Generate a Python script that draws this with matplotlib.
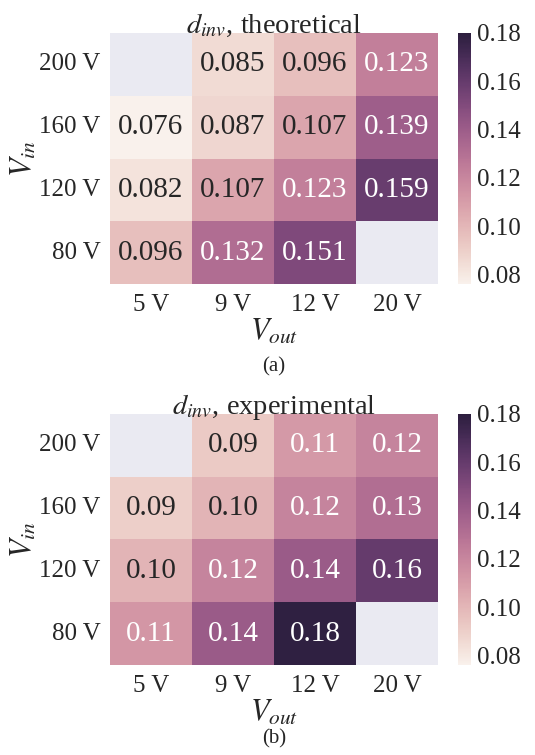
import matplotlib
matplotlib.use('Agg')
import matplotlib.pyplot as plt
import numpy as np
import pandas as pd
import seaborn as sns

# Data
vin_labels = ['200 V', '160 V', '120 V', '80 V']
vout_labels = ['5 V', '9 V', '12 V', '20 V']

theoretical = [
    [np.nan, 0.085, 0.096, 0.123],
    [0.076, 0.087, 0.107, 0.139],
    [0.082, 0.107, 0.123, 0.159],
    [0.096, 0.132, 0.151, np.nan],
]

# shown rounded to 2 decimals in the chart
experimental = [
    [np.nan, 0.092, 0.112, 0.121],
    [0.090, 0.101, 0.121, 0.131],
    [0.101, 0.121, 0.141, 0.160],
    [0.113, 0.141, 0.179, np.nan],
]

sns.set_theme(style='darkgrid')
plt.rcParams['font.family'] = ['Liberation Serif', 'DejaVu Serif']
plt.rcParams['mathtext.fontset'] = 'stix'

cmap = sns.cubehelix_palette(light=.95, as_cmap=True)
vmin, vmax = 0.076, 0.18

fig = plt.figure(figsize=(5.35, 7.55), dpi=100)

panels = [
    (theoretical, '.3f', r'$d_{inv}$, theoretical', '(a)', 0.6238, 0.502),
    (experimental, '.2f', r'$d_{inv}$, experimental', '(b)', 0.1192, 0.008),
]

for data, fmt, title, tag, bottom, tag_y in panels:
    df = pd.DataFrame(data, index=vin_labels, columns=vout_labels)
    ax = fig.add_axes([0.2056, bottom, 0.613, 0.3325])
    cax = fig.add_axes([0.856, bottom, 0.0243, 0.3325])
    sns.heatmap(df, ax=ax, cbar_ax=cax, cmap=cmap, vmin=vmin, vmax=vmax,
                annot=True, fmt=fmt, annot_kws={'fontsize': 21})
    ax.grid(False)
    ax.set_title(title, fontsize=20.5, pad=0)
    ax.set_xlabel(r'$V_{out}$', fontsize=22, labelpad=1)
    ax.set_ylabel(r'$V_{in}$', fontsize=22, labelpad=0)
    ax.tick_params(axis='both', labelsize=18, length=0, pad=7)
    plt.setp(ax.get_yticklabels(), rotation=0)
    plt.setp(ax.get_xticklabels(), rotation=0)
    cax.grid(False)
    cax.set_yticks([0.08, 0.10, 0.12, 0.14, 0.16, 0.18])
    cax.set_yticklabels(['0.08', '0.10', '0.12', '0.14', '0.16', '0.18'])
    cax.tick_params(labelsize=18, length=0, pad=4)
    fig.text(0.512, tag_y, tag, ha='center', va='bottom', fontsize=15)

plt.savefig('out.png', dpi=100)
